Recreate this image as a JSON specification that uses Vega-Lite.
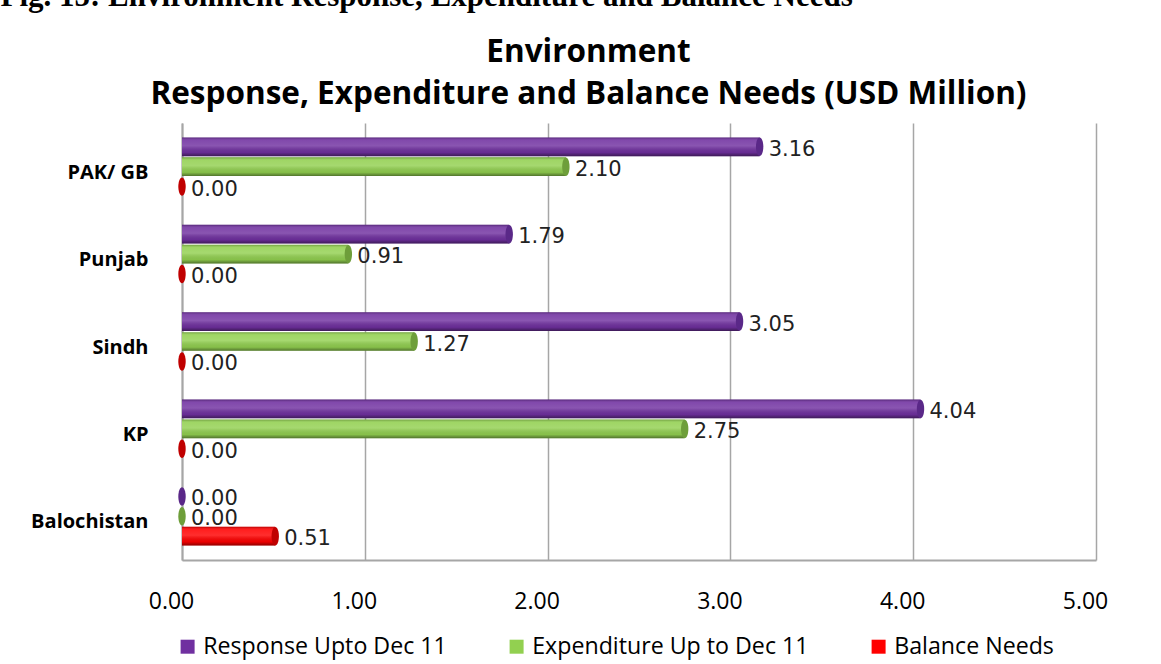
{
  "$schema": "https://vega.github.io/schema/vega-lite/v6.json",
  "width": 914,
  "height": 437,
  "autosize": {"type": "none"},
  "padding": {"left": 182, "top": 123, "right": 65, "bottom": 104},
  "background": "white",
  "config": {"view": {"stroke": null}},
  "data": {
    "values": [
      {"region": "PAK/ GB", "series": "Response Upto Dec 11", "value": 3.16},
      {"region": "PAK/ GB", "series": "Expenditure Up to Dec 11", "value": 2.10},
      {"region": "PAK/ GB", "series": "Balance Needs", "value": 0.00},
      {"region": "Punjab", "series": "Response Upto Dec 11", "value": 1.79},
      {"region": "Punjab", "series": "Expenditure Up to Dec 11", "value": 0.91},
      {"region": "Punjab", "series": "Balance Needs", "value": 0.00},
      {"region": "Sindh", "series": "Response Upto Dec 11", "value": 3.05},
      {"region": "Sindh", "series": "Expenditure Up to Dec 11", "value": 1.27},
      {"region": "Sindh", "series": "Balance Needs", "value": 0.00},
      {"region": "KP", "series": "Response Upto Dec 11", "value": 4.04},
      {"region": "KP", "series": "Expenditure Up to Dec 11", "value": 2.75},
      {"region": "KP", "series": "Balance Needs", "value": 0.00},
      {"region": "Balochistan", "series": "Response Upto Dec 11", "value": 0.00},
      {"region": "Balochistan", "series": "Expenditure Up to Dec 11", "value": 0.00},
      {"region": "Balochistan", "series": "Balance Needs", "value": 0.51}
    ]
  },
  "encoding": {
    "y": {
      "field": "region",
      "type": "nominal",
      "sort": ["PAK/ GB", "Punjab", "Sindh", "KP", "Balochistan"],
      "scale": {"paddingInner": 0.33, "paddingOuter": 0.165},
      "axis": {
        "title": ["Environment", "Response, Expenditure and Balance Needs (USD Million)"],
        "titleFont": "Open Sans",
        "titleFontWeight": "bold",
        "titleFontSize": 31.5,
        "titleLineHeight": 42,
        "titleColor": "#000000",
        "titleAngle": 0,
        "titleAlign": "center",
        "titleBaseline": "top",
        "titleX": 406,
        "titleY": -87,
        "ticks": false,
        "domain": true,
        "domainColor": "#a6a6a6",
        "domainWidth": 2,
        "labelFont": "Open Sans",
        "labelFontWeight": "bold",
        "labelFontSize": 20,
        "labelColor": "#000000",
        "labelPadding": 34,
        "labelOffset": 6
      }
    },
    "yOffset": {
      "field": "series",
      "type": "nominal",
      "sort": ["Response Upto Dec 11", "Expenditure Up to Dec 11", "Balance Needs"],
      "scale": {"paddingInner": 0.06}
    }
  },
  "layer": [
    {
      "mark": {"type": "bar"},
      "encoding": {
        "x": {
          "field": "value",
          "type": "quantitative",
          "scale": {"domain": [0, 5], "nice": false},
          "axis": {
            "title": null,
            "values": [0, 1, 2, 3, 4, 5],
            "format": ".2f",
            "grid": true,
            "gridColor": "#a6a6a6",
            "gridWidth": 1.5,
            "ticks": false,
            "domain": true,
            "domainColor": "#a6a6a6",
            "domainWidth": 2,
            "labelFont": "Open Sans",
            "labelFontSize": 23,
            "labelColor": "#000000",
            "labelPadding": 30,
            "labelFlush": false,
            "labelOffset": -11
          }
        },
        "color": {
          "field": "series",
          "type": "nominal",
          "scale": {
            "domain": ["Response Upto Dec 11", "Expenditure Up to Dec 11", "Balance Needs"],
            "range": ["#7030a0", "#92d050", "#ff0000"]
          },
          "legend": {
            "title": null,
            "orient": "none",
            "direction": "horizontal",
            "legendX": -6,
            "legendY": 512,
            "symbolType": "square",
            "symbolSize": 196,
            "symbolStrokeWidth": 0,
            "labelFont": "Open Sans",
            "labelFontSize": 23.2,
            "labelColor": "#000000",
            "labelOffset": 4,
            "labelLimit": 500,
            "columnPadding": 58,
            "padding": 0
          }
        }
      }
    },
    {
      "mark": {
        "type": "bar",
        "color": {
          "gradient": "linear",
          "x1": 0, "y1": 0, "x2": 0, "y2": 1,
          "stops": [
            {"offset": 0, "color": "rgba(0,0,0,0.25)"},
            {"offset": 0.15, "color": "rgba(255,255,255,0.12)"},
            {"offset": 0.45, "color": "rgba(255,255,255,0.18)"},
            {"offset": 0.8, "color": "rgba(0,0,0,0.08)"},
            {"offset": 1, "color": "rgba(0,0,0,0.45)"}
          ]
        }
      },
      "encoding": {
        "x": {"field": "value", "type": "quantitative", "axis": null}
      }
    },
    {
      "mark": {
        "type": "point",
        "shape": "M0,-1A0.4,1,0,1,1,0,1A0.4,1,0,1,1,0,-1Z",
        "filled": true,
        "size": 340,
        "opacity": 1
      },
      "encoding": {
        "x": {"field": "value", "type": "quantitative", "axis": null},
        "fill": {
          "field": "series",
          "type": "nominal",
          "scale": {
            "domain": ["Response Upto Dec 11", "Expenditure Up to Dec 11", "Balance Needs"],
            "range": ["#5a2888", "#6e9e3a", "#c00000"]
          },
          "legend": null
        }
      }
    },
    {
      "mark": {
        "type": "text",
        "align": "left",
        "baseline": "middle",
        "dx": 9,
        "dy": 3,
        "font": "DejaVu Sans",
        "fontSize": 21,
        "color": "#222222"
      },
      "encoding": {
        "x": {
          "field": "value",
          "type": "quantitative",
          "axis": {
            "orient": "top",
            "labels": false,
            "ticks": false,
            "domain": false,
            "grid": false,
            "title": "Fig. 15: Environment Response, Expenditure and Balance Needs",
            "titleFont": "Liberation Serif",
            "titleFontWeight": "bold",
            "titleFontSize": 31,
            "titleColor": "#000000",
            "titleAnchor": "start",
            "titleAlign": "left",
            "titleBaseline": "alphabetic",
            "titleX": -182,
            "titleY": -118
          }
        },
        "text": {"field": "value", "type": "quantitative", "format": ".2f"}
      }
    }
  ],
  "resolve": {"axis": {"x": "independent"}}
}
